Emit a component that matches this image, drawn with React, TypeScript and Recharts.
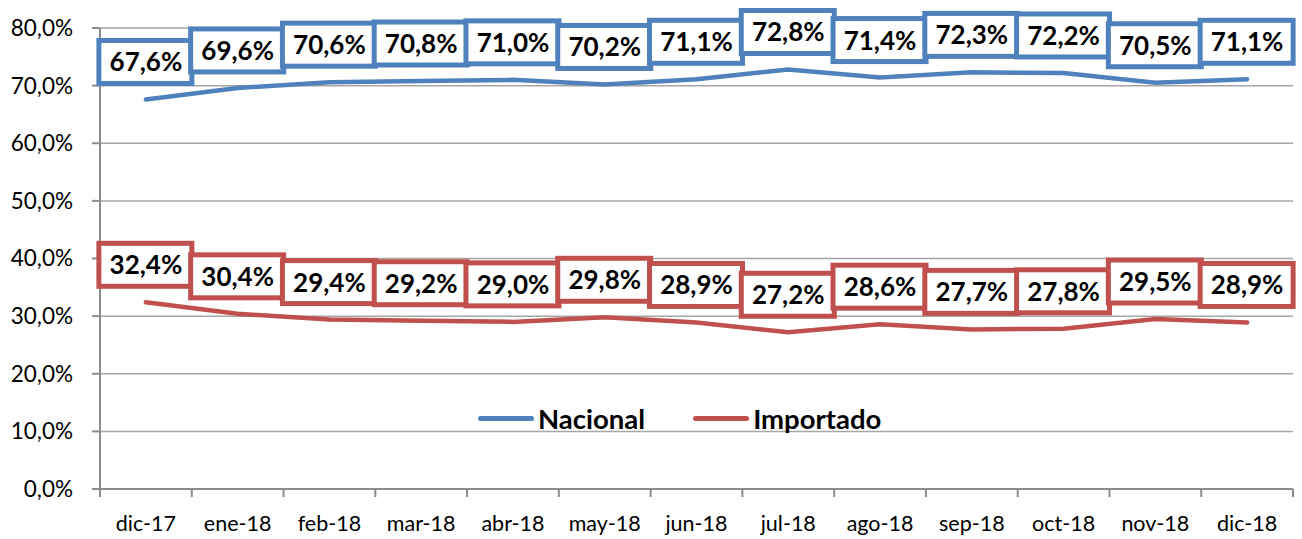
import React from 'react';
import { LineChart, Line, XAxis, YAxis, CartesianGrid, LabelList, Legend } from 'recharts';

const categories = ['dic-17', 'ene-18', 'feb-18', 'mar-18', 'abr-18', 'may-18', 'jun-18', 'jul-18', 'ago-18', 'sep-18', 'oct-18', 'nov-18', 'dic-18'];
const nacional = [67.6, 69.6, 70.6, 70.8, 71.0, 70.2, 71.1, 72.8, 71.4, 72.3, 72.2, 70.5, 71.1];
const importado = [32.4, 30.4, 29.4, 29.2, 29.0, 29.8, 28.9, 27.2, 28.6, 27.7, 27.8, 29.5, 28.9];
const yTicks = [0, 10, 20, 30, 40, 50, 60, 70, 80];

const BLUE = '#4f81bd';
const RED = '#c0504d';
const AXIS = '#8c8c8c';
const FONT = 'Lato, "Liberation Sans", sans-serif';

const data = categories.map((name, i) => ({ name, nacional: nacional[i], importado: importado[i] }));

const fmt = (v: number) => v.toFixed(1).replace('.', ',') + '%';

const PLOT_W = 1193;
const HALF = PLOT_W / categories.length / 2;

const XTick = (props: any) => {
  const { x, y, payload, index } = props;
  return (
    <g>
      <line x1={x - HALF} x2={x - HALF} y1={y} y2={y + 8} stroke={AXIS} strokeWidth={2} />
      {index === categories.length - 1 && (
        <line x1={x + HALF} x2={x + HALF} y1={y} y2={y + 8} stroke={AXIS} strokeWidth={2} />
      )}
      <text x={x} y={y + 42} textAnchor="middle" fontSize={21.5} fill="#000" fontFamily={FONT}>
        {payload.value}
      </text>
    </g>
  );
};

const makeLabel = (color: string) => (props: any) => {
  const { x, y, value } = props;
  return (
    <g>
      <rect x={x - 47} y={y - 59} width={93} height={43} fill="#fff" stroke={color} strokeWidth={5} />
      <text x={x} y={y - 28} textAnchor="middle" fontSize={26} fontWeight="bold" fill="#000" fontFamily={FONT}>
        {fmt(value)}
      </text>
    </g>
  );
};

const renderLegend = () => (
  <div style={{ display: 'flex', alignItems: 'center', fontFamily: FONT, fontWeight: 'bold', fontSize: 27.5 }}>
    {[
      { name: 'Nacional', color: BLUE },
      { name: 'Importado', color: RED },
    ].map((it, i) => (
      <div key={it.name} style={{ display: 'flex', alignItems: 'center', marginRight: i === 0 ? 48 : 0 }}>
        <div style={{ width: 56, height: 5, borderRadius: 3, background: it.color, marginRight: 4 }} />
        <span>{it.name}</span>
      </div>
    ))}
  </div>
);

export default function App() {
  return (
    <div style={{ position: 'absolute', left: 0, top: 0, background: '#fff' }}>
      <LineChart width={1302} height={539} data={data} margin={{ top: 28, right: 9, left: 0, bottom: 0 }} style={{ fontFamily: FONT }}>
        <CartesianGrid vertical={false} stroke="#a6a6a6" strokeWidth={1.5} />
        <XAxis
          dataKey="name"
          height={50}
          padding={{ left: HALF, right: HALF }}
          axisLine={{ stroke: AXIS, strokeWidth: 2 }}
          tickLine={false}
          tickSize={0}
          tickMargin={0}
          interval={0}
          tick={<XTick />}
        />
        <YAxis
          width={100}
          domain={[0, 80]}
          ticks={yTicks}
          tickFormatter={fmt}
          axisLine={{ stroke: AXIS, strokeWidth: 2 }}
          tickLine={{ stroke: AXIS, strokeWidth: 2 }}
          tickSize={8}
          tickMargin={19}
          tick={{ fontSize: 22.5, fill: '#000', fontFamily: FONT }}
        />
        <Legend
          layout="horizontal"
          verticalAlign="middle"
          align="center"
          content={renderLegend}
          wrapperStyle={{ top: 402, left: 478, width: 480 }}
        />
        <Line dataKey="nacional" name="Nacional" stroke={BLUE} strokeWidth={4.5} dot={false} isAnimationActive={false} strokeLinecap="round">
          <LabelList dataKey="nacional" content={makeLabel(BLUE)} />
        </Line>
        <Line dataKey="importado" name="Importado" stroke={RED} strokeWidth={4.5} dot={false} isAnimationActive={false} strokeLinecap="round">
          <LabelList dataKey="importado" content={makeLabel(RED)} />
        </Line>
      </LineChart>
    </div>
  );
}
